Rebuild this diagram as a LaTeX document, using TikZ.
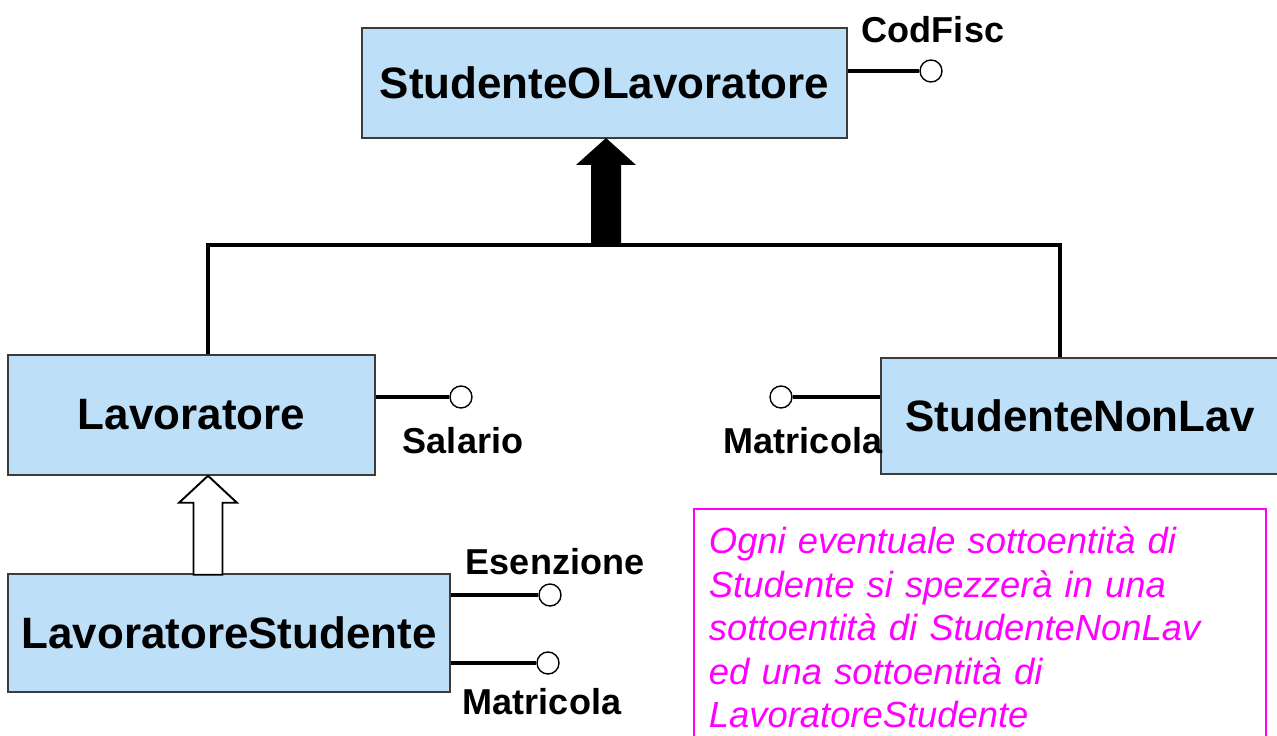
\documentclass[tikz,border=0pt]{standalone}
\usepackage{fontspec}
\setmainfont{Liberation Sans}
\definecolor{entfill}{RGB}{189,224,248}
\definecolor{entline}{RGB}{60,60,60}
\definecolor{notemag}{RGB}{255,0,255}
\tikzset{
  entity/.style={draw=entline, line width=0.9pt, fill=entfill, inner sep=0pt,
    font=\fontsize{25}{30}\selectfont\bfseries},
  attr/.style={draw, circle, fill=white, line width=0.8pt, minimum size=0.44cm, inner sep=0pt},
  attrline/.style={line width=2.1pt},
  attrlabel/.style={font=\fontsize{20.5}{24}\selectfont\bfseries, inner sep=0pt, anchor=base},
  isa/.style={line width=2.4pt},
}
\begin{document}
\begin{tikzpicture}[x=0.02cm, y=-0.02cm]
\useasboundingbox (0,0) rectangle (1277,736);
% entities
\node[entity, minimum width=9.7cm, minimum height=2.2cm] (sol) at (604.5,83) {StudenteOLavoratore};
\node[entity, minimum width=7.34cm, minimum height=2.4cm] (lav) at (191.5,415) {Lavoratore};
\node[entity, minimum width=7.96cm, minimum height=2.32cm] (snl) at (1080,416) {StudenteNonLav};
\node[entity, minimum width=8.84cm, minimum height=2.36cm] (ls) at (229,633) {LavoratoreStudente};
% attributes
\node[attr] (cf) at (931,71) {};
\node[attr] (sal) at (461,397) {};
\node[attr] (mr) at (781,397) {};
\node[attr] (es) at (550,595) {};
\node[attr] (mb) at (548,663) {};
\draw[attrline] (sol.east |- cf) -- (cf);
\draw[attrline] (lav.east |- sal) -- (sal);
\draw[attrline] (snl.west |- mr) -- (mr);
\draw[attrline] (ls.east |- es) -- (es);
\draw[attrline] (ls.east |- mb) -- (mb);
\node[attrlabel] (cflab) at (933,43) {CodFisc};
\node[attrlabel] (sallab) at (463,453) {Salario};
\node[attrlabel] (mrlab) at (803,453) {Matricola};
\node[attrlabel] (eslab) at (555,574) {Esenzione};
\node[attrlabel] (mblab) at (542,714) {Matricola};
% generalizzazione totale
\coordinate (jl) at (208,245);
\coordinate (jr) at (1060,245);
\coordinate (tip) at (606,138);
\draw[isa] (jl |- lav.north) -- (jl) -- (jr) -- (jr |- snl.north);
\fill (tip) -- ++(30,27) -- ++(-15,0) -- ++(0,80) -- ++(-30,0) -- ++(0,-80) -- ++(-15,0) -- cycle;
% generalizzazione parziale
\coordinate (tip2) at (lav.south -| jl);
\filldraw[fill=white, line width=1.1pt] (tip2) -- ++(29,27) -- ++(-14.5,0) -- ++(0,72) -- ++(-29,0) -- ++(0,-72) -- ++(-14.5,0) -- cycle;
% nota
\node[draw=notemag, line width=1.1pt, anchor=north west, text width=10.84cm, align=left,
  inner xsep=0.3cm, inner ysep=0.36cm, text=notemag,
  font=\fontsize{20.7}{24.75}\selectfont\itshape] (note) at (693,508)
  {Ogni eventuale sottoentità di\\ Studente si spezzerà in una\\ sottoentità di StudenteNonLav\\ ed una sottoentità di\\ LavoratoreStudente};
\end{tikzpicture}
\end{document}
